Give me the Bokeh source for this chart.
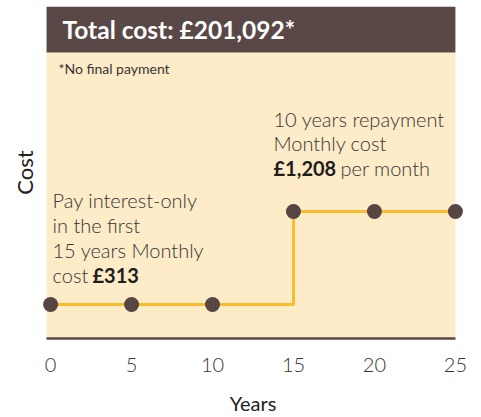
from bokeh.plotting import figure
from bokeh.models import Label, BoxAnnotation, FixedTicker, Range1d
from bokeh.embed import file_html
from bokeh.resources import INLINE

# ---- data ----
years = [0, 5, 10, 15, 20, 25]
monthly_cost = [313, 313, 313, 1208, 1208, 1208]
x_ticks = [0, 5, 10, 15, 20, 25]
title_text = "Total cost: £201,092*"
footnote_text = "*No final payment"
low_lines = ["Pay interest-only", "in the first", "15 years Monthly", "cost"]
low_bold = "£313"
high_lines = ["10 years repayment", "Monthly cost"]
high_bold = "£1,208"
high_tail = "per month"

# ---- layout constants ----
W, H = 481, 417
FL, FR, FT, FB = 42, 463, 6, 338
X0, X1 = -0.5, 25.5
Y0, Y1 = -14.2, 3181.0

def xd(px):
    return X0 + (px - FL) * (X1 - X0) / (FR - FL)

def yd(py):
    return Y1 - (py - FT) * (Y1 - Y0) / (FB - FT)

BROWN = "#5a4846"
CREAM = "#feebc8"
YELLOW = "#f9bd2c"
DOT = "#574544"
TXT = "#353535"
FONT = "Lato"
LIGHT = "Lato Light"

p = figure(width=W, height=H, output_backend="svg", toolbar_location=None,
           x_range=Range1d(X0, X1), y_range=Range1d(Y0, Y1),
           min_border_left=FL, min_border_right=W - FR,
           min_border_top=FT, min_border_bottom=H - FB)
p.outline_line_color = None
p.background_fill_color = "white"
p.border_fill_color = "white"
p.xgrid.visible = False
p.ygrid.visible = False

HDR = yd(52)
p.add_layout(BoxAnnotation(left=-0.25, right=25, top=HDR, fill_color=CREAM,
                           fill_alpha=1, line_color=None, level="underlay"))
p.add_layout(BoxAnnotation(left=-0.25, right=25, bottom=HDR, fill_color=BROWN,
                           fill_alpha=1, line_color=None, level="underlay"))

p.step(years, monthly_cost, mode="after", line_color=YELLOW, line_width=3)
p.scatter(years, monthly_cost, size=15, fill_color=DOT, line_color=None)

# axes
xa = p.xaxis[0]
xa.ticker = FixedTicker(ticks=x_ticks)
xa.bounds = (-0.25, 25)
xa.axis_line_color = BROWN
xa.axis_line_width = 2.5
xa.major_tick_line_color = None
xa.minor_tick_line_color = None
xa.major_tick_out = 0
xa.major_label_standoff = 19
xa.major_label_text_font = LIGHT
xa.major_label_text_font_size = "20px"
xa.major_label_text_color = TXT
xa.axis_label = "Years"
xa.axis_label_text_font = FONT
xa.axis_label_text_font_size = "20px"
xa.axis_label_text_font_style = "normal"
xa.axis_label_text_color = "#222222"
xa.axis_label_standoff = 16

ya = p.yaxis[0]
ya.ticker = FixedTicker(ticks=[])
ya.axis_line_color = None
ya.major_tick_line_color = None
ya.minor_tick_line_color = None
ya.major_tick_out = 0
ya.major_label_text_font_size = "0px"
ya.axis_label = "Cost"
ya.axis_label_text_font = FONT
ya.axis_label_text_font_size = "22px"
ya.axis_label_text_font_style = "normal"
ya.axis_label_text_color = "#222222"
ya.axis_label_standoff = 5

def lab(px, py, text, size="20px", style="normal", color=TXT, font=LIGHT):
    p.add_layout(Label(x=xd(px), y=yd(py), text=text, text_font=font,
                       text_font_size=size, text_font_style=style,
                       text_color=color, text_align="left",
                       text_baseline="middle"))

lab(62, 29, title_text, size="24.5px", style="bold", color="white", font=FONT)
lab(58, 68, footnote_text, size="14px", color=TXT, font=FONT)

for i, line in enumerate(low_lines):
    lab(52, 199 + i * 25.3, line)
lab(92, 199 + 3 * 25.3, low_bold, style="bold", color="#1e1e1e", font=FONT)

for i, line in enumerate(high_lines):
    lab(273, 118 + i * 24.5, line)
lab(273, 167, high_bold, style="bold", color="#1e1e1e", font=FONT)
lab(340, 167, high_tail)

open("out.html", "w").write(file_html(p, INLINE))
